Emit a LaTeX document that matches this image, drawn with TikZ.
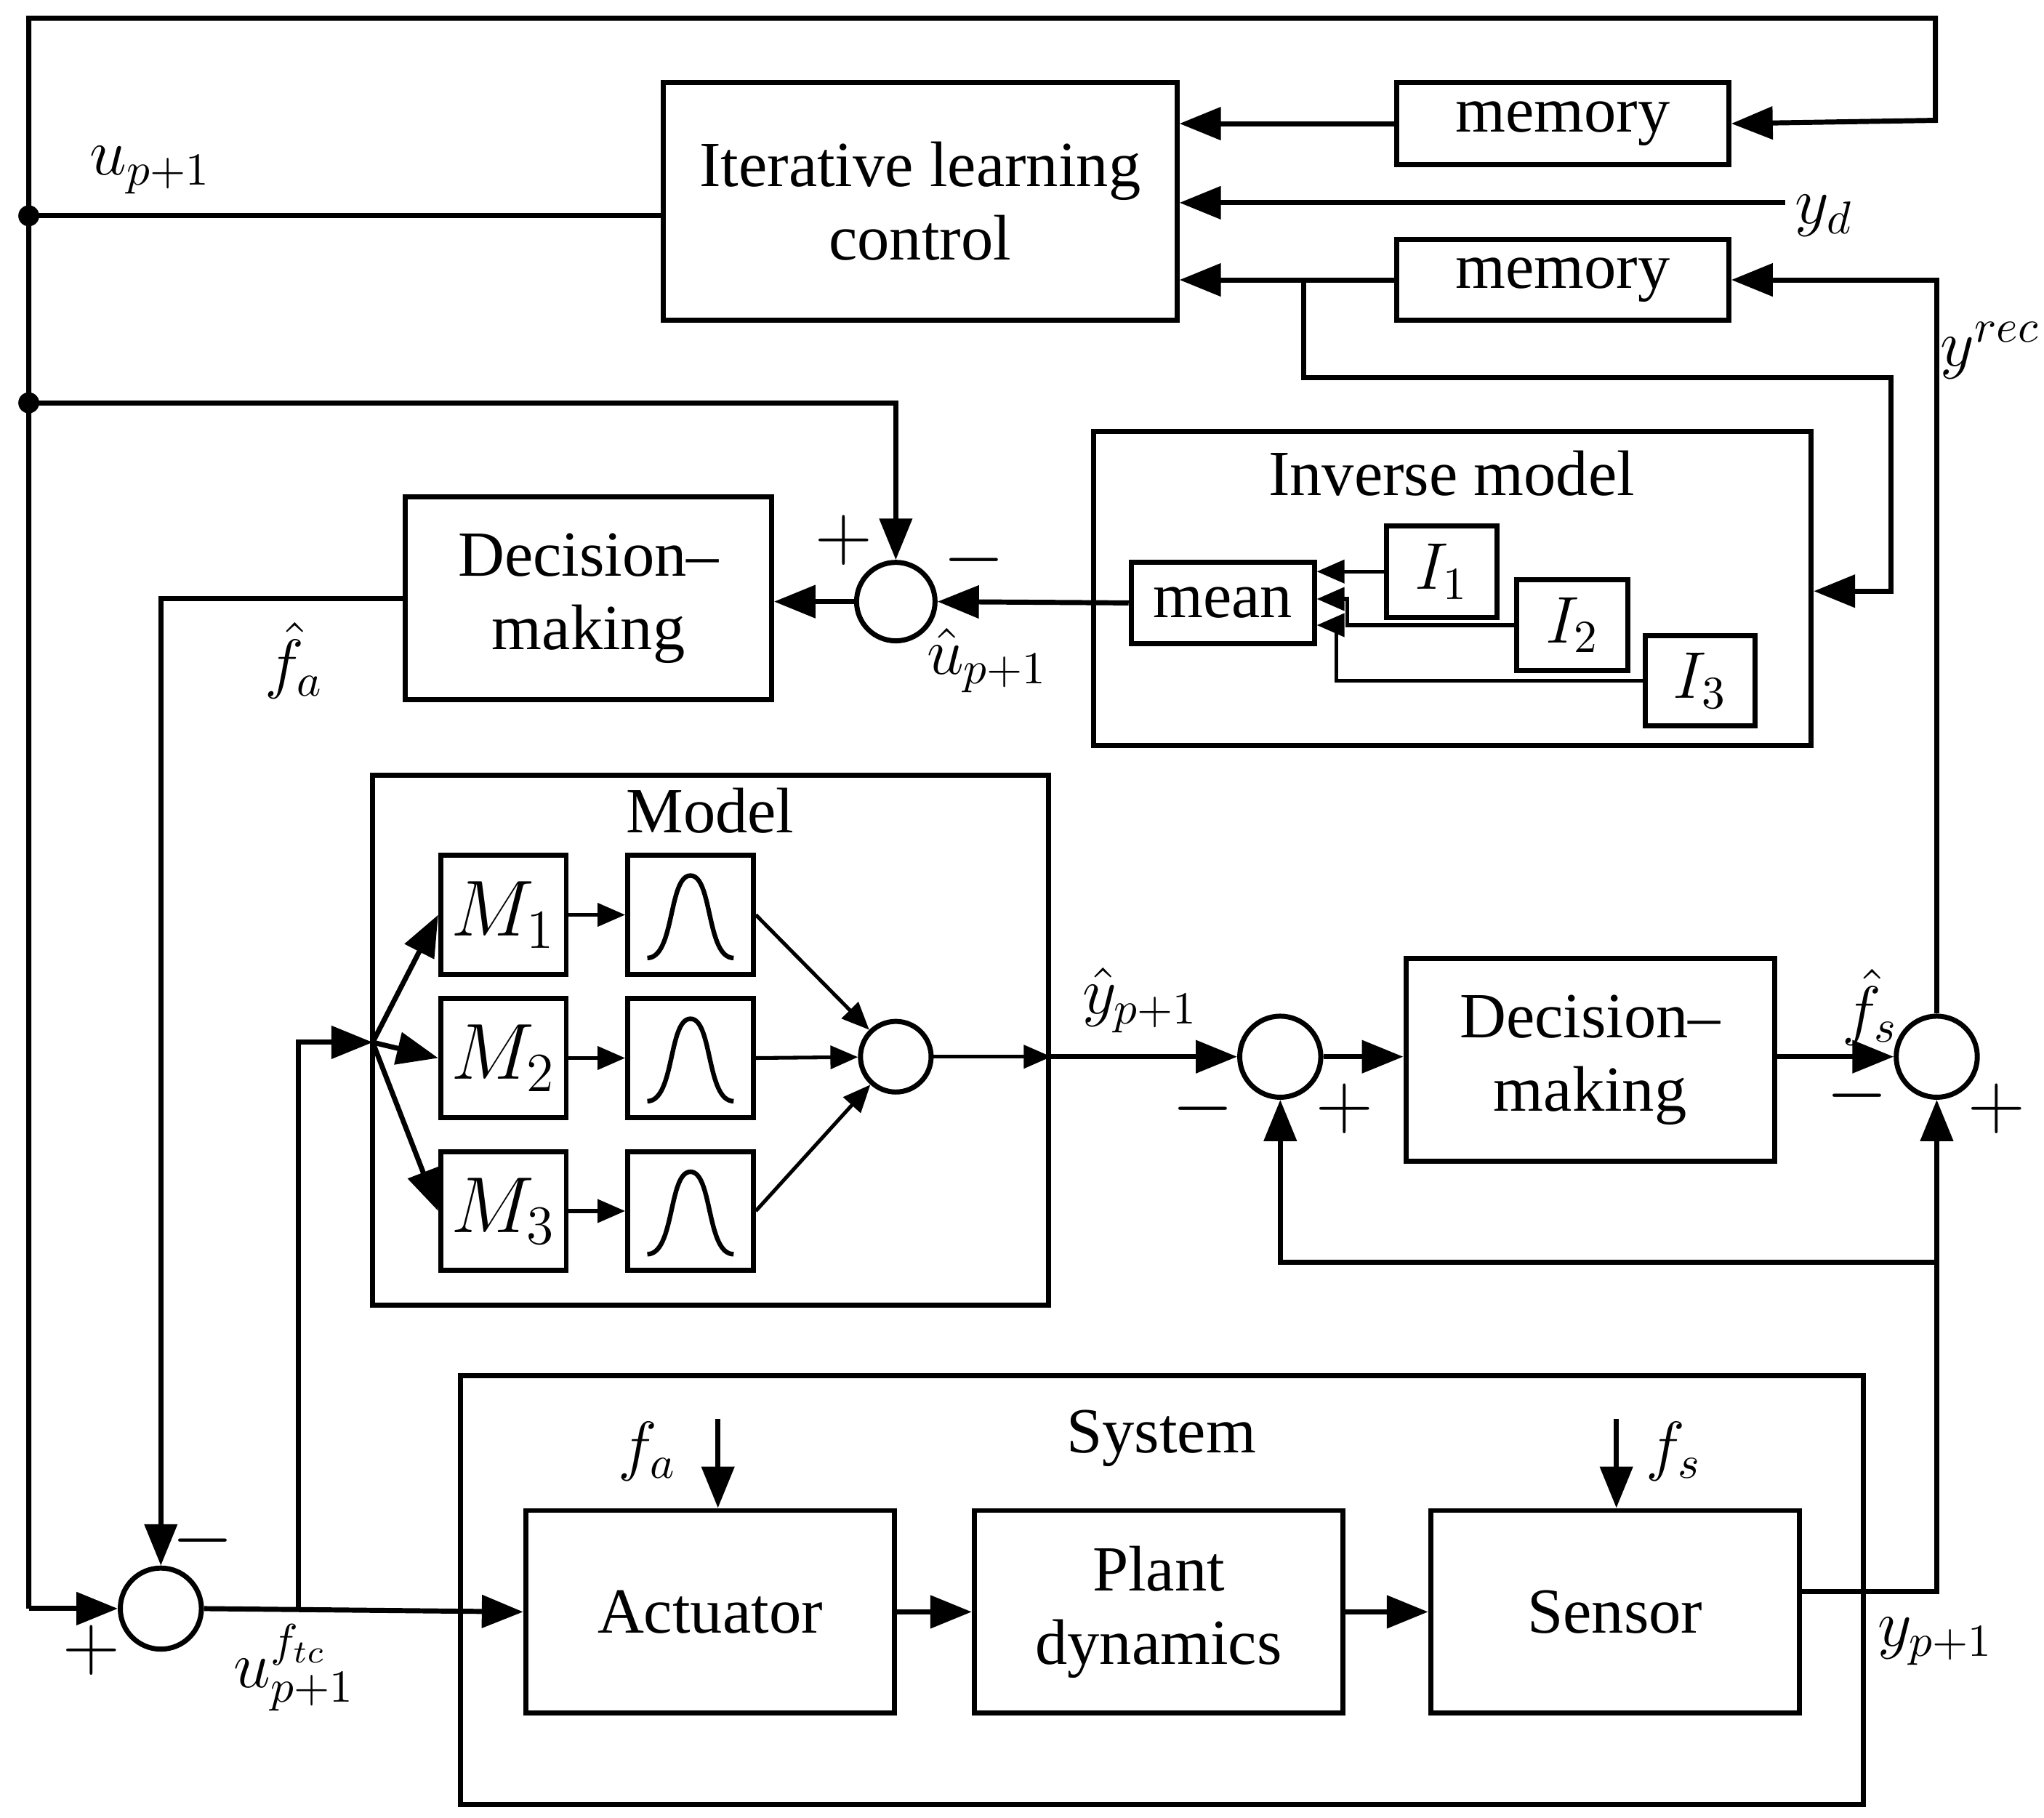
\documentclass[tikz,border=0pt]{standalone}
\usepackage[no-math]{fontspec}
\setmainfont{Liberation Serif}
\usetikzlibrary{arrows.meta,calc}
\tikzset{
  blk/.style={draw, line width=1.1pt, inner sep=0pt, align=center, font=\fontsize{14}{16}\selectfont},
  sm/.style={draw, line width=1.1pt, circle, inner sep=0pt, minimum size=#1},
  ln/.style={line width=1.1pt},
  thin ln/.style={line width=0.8pt},
  arr/.style={ln, -{Triangle[length=9pt,width=7pt]}},
  thin arr/.style={thin ln, -{Triangle[length=6pt,width=5pt]}},
  sgn/.style={font=\fontsize{18}{18}\selectfont},
  lbl/.style={font=\fontsize{14}{16}\selectfont},
  gauss/.style={blk, path picture={
    \begin{scope}[shift={(path picture bounding box.center)}]
      \draw[line width=1pt] (-0.33,-0.33) .. controls (-0.12,-0.33) and (-0.17,0.3) .. (0,0.3)
        .. controls (0.17,0.3) and (0.12,-0.33) .. (0.33,-0.33);
    \end{scope}}}
}
\begin{document}
\begin{tikzpicture}
  \useasboundingbox (0,0) rectangle (15.63,-13.90);
  % upper part
  \node[blk, minimum width=3.93cm, minimum height=1.82cm] (ilc) at (7.035,-1.54) {Iterative learning\\control};
  \node[blk, minimum width=2.54cm, minimum height=0.63cm] (mem1) at (11.95,-0.945) {memory};
  \node[blk, minimum width=2.54cm, minimum height=0.62cm] (mem2) at (11.95,-2.14) {memory};
  % inverse model
  \node[blk, minimum width=5.49cm, minimum height=2.40cm] (inv) at (11.105,-4.50) {};
  \node[blk, draw=none] at (11.1,-3.62) {Inverse model};
  \node[blk, minimum width=1.40cm, minimum height=0.62cm] (mean) at (9.35,-4.61) {mean};
  \node[blk, minimum width=0.85cm, minimum height=0.70cm] (i1) at (11.025,-4.37) {$I_1$};
  \node[blk, minimum width=0.85cm, minimum height=0.70cm] (i2) at (12.025,-4.78) {$I_2$};
  \node[blk, minimum width=0.84cm, minimum height=0.69cm] (i3) at (13.0,-5.205) {$I_3$};
  \node[sm=0.60cm] (sumu) at (6.85,-4.60) {};
  \node[blk, minimum width=2.80cm, minimum height=1.55cm] (dm1) at (4.50,-4.575) {Decision–\\making};
  % model
  \node[blk, minimum width=5.17cm, minimum height=4.05cm] (mdl) at (5.435,-7.955) {};
  \node[blk, draw=none] at (5.43,-6.20) {Model};
  \foreach \k/\y in {1/-6.995,2/-8.09,3/-9.26}{
    \node[blk, minimum width=0.96cm, minimum height=0.91cm, font=\fontsize{18}{18}\selectfont] (m\k) at (3.85,\y) {$M_{\k}$};
    \node[gauss, minimum width=0.96cm, minimum height=0.91cm] (g\k) at (5.28,\y) {};
    \draw[thin arr] (m\k) -- (g\k);
  }
  \node[sm=0.54cm] (sumg) at (6.85,-8.08) {};
  \node[sm=0.62cm] (sum2) at (9.79,-8.08) {};
  \node[blk, minimum width=2.82cm, minimum height=1.55cm] (dm2) at (12.16,-8.105) {Decision–\\making};
  \node[sm=0.62cm] (sum3) at (14.81,-8.08) {};
  % system
  \node[blk, minimum width=10.73cm, minimum height=3.28cm] (sys) at (8.885,-12.16) {};
  \node[blk, draw=none] at (8.88,-11.0) {System};
  \node[blk, minimum width=2.82cm, minimum height=1.55cm] (act) at (5.43,-12.325) {Actuator};
  \node[blk, minimum width=2.82cm, minimum height=1.55cm] (plant) at (8.86,-12.325) {Plant\\dynamics};
  \node[blk, minimum width=2.82cm, minimum height=1.55cm] (sens) at (12.35,-12.325) {Sensor};
  \node[sm=0.62cm] (sumf) at (1.23,-12.30) {};
  % coordinates
  \coordinate (dA) at (0.22,-1.65);
  \coordinate (dB) at (0.22,-3.08);
  \coordinate (fan) at (2.85,-7.97);
  \coordinate (br) at (2.28,-12.30);
  \coordinate (yd) at (13.65,-1.55);
  \coordinate (ysp) at (14.81,-12.17);
  \coordinate (yfb) at (14.81,-9.65);
  % outer loop
  \draw[arr] (0.22,-12.30) |- (14.80,-0.14) -- (14.80,-0.92) -- (mem1.east);
  \draw[arr] (0.22,-12.30) -- (sumf.west);
  \fill (dA) circle (0.08) (dB) circle (0.08);
  \draw[arr] (mem1.west) -- (ilc.east |- mem1);
  \draw[arr] (yd) -- (ilc.east |- yd);
  \draw[arr] (mem2.west) -- (ilc.east |- mem2);
  \draw[ln] (ilc.west |- dA) -- (dA);
  \draw[arr] (9.97,-2.14) |- (14.46,-2.89) |- (inv.east |- 0,-4.52);
  \draw[arr] (dB) -| (sumu.north);
  \draw[arr] (mean.west) -- (sumu.east);
  \draw[arr] (sumu.west) -- (dm1.east |- sumu);
  \draw[thin arr] (i1.west) -- (mean.east |- i1);
  \draw[thin arr] (i2.west) -| (10.30,-4.58) -- (mean.east |- 0,-4.58);
  \draw[thin arr] (i3.west) -| (10.22,-4.78) -- (mean.east |- 0,-4.78);
  \draw[arr] (dm1.west) -| (sumf.north);
  % model path
  \draw[arr] (sumf.east) -- (act.west);
  \draw[arr] (br) |- (fan);
  \foreach \k in {1,2,3}{
    \draw[arr] (fan) -- (m\k.west);
    \draw[thin arr] (g\k.east) -- (sumg);
  }
  \draw[thin arr] (sumg.east) -- (mdl.east |- sumg);
  \draw[arr] (mdl.east |- sumg) -- (sum2.west);
  \draw[arr] (sum2.east) -- (dm2.west |- sum2);
  \draw[arr] (dm2.east |- sum3) -- (sum3.west);
  \draw[arr] (sum3.north) |- (mem2.east);
  % system
  \draw[arr] (act.east) -- (plant.west);
  \draw[arr] (plant.east) -- (sens.west);
  \draw[arr] (5.49,-10.85) -- (act.north -| 5.49,0);
  \draw[arr] (12.36,-10.85) -- (sens.north -| 12.36,0);
  \draw[arr] (sens.east |- ysp) -| (sum3.south);
  \draw[arr] (yfb) -| (sum2.south);
  % labels
  \node[lbl] at (1.15,-1.30) {$u_{p+1}$};
  \node[lbl] at (13.95,-1.65) {$y_{d}$};
  \node[lbl] at (15.22,-2.68) {$y^{rec}$};
  \node[lbl] at (7.55,-5.05) {$\hat{u}_{p+1}$};
  \node[lbl] at (2.25,-5.05) {$\hat{f}_{a}$};
  \node[lbl] at (8.72,-7.65) {$\hat{y}_{p+1}$};
  \node[lbl] at (14.30,-7.70) {$\hat{f}_{s}$};
  \node[lbl] at (2.25,-12.75) {$u^{f_{tc}}_{p+1}$};
  \node[lbl] at (14.80,-12.55) {$y_{p+1}$};
  \node[lbl] at (4.95,-11.10) {$f_a$};
  \node[lbl] at (12.80,-11.10) {$f_s$};
  \node[sgn] at (6.45,-4.13) {$+$};
  \node[sgn] at (7.45,-4.28) {$-$};
  \node[sgn] at (1.55,-11.78) {$-$};
  \node[sgn] at (0.70,-12.62) {$+$};
  \node[sgn] at (9.20,-8.48) {$-$};
  \node[sgn] at (10.28,-8.48) {$+$};
  \node[sgn] at (14.20,-8.38) {$-$};
  \node[sgn] at (15.27,-8.48) {$+$};
\end{tikzpicture}
\end{document}
